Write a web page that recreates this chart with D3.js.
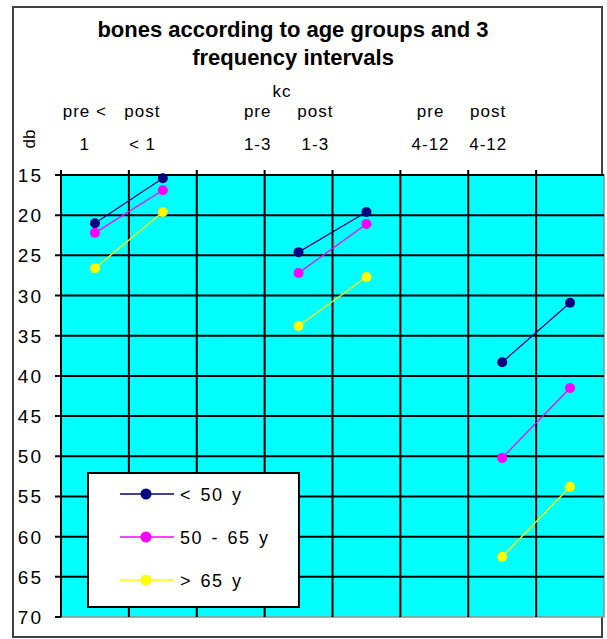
<!DOCTYPE html>
<html>
<head>
<meta charset="utf-8">
<script src="https://cdn.jsdelivr.net/npm/d3@7"></script>
<style>
	html, body { margin: 0; padding: 0; background: #fff; }
	text { font-family: "Liberation Sans", Arial, sans-serif; }
</style>
</head>
<body>
<div id="chart"></div>
<script>
// categories along the top axis (two empty spacer slots between the groups)
const categories = ["pre<1", "post<1", "gap1", "pre1-3", "post1-3", "gap2", "pre4-12", "post4-12"];
const headerTop = ["pre <", "post", "", "pre", "post", "", "pre", "post"];
const headerBottom = ["1", "< 1", "", "1-3", "1-3", "", "4-12", "4-12"];

// db values per age group
const under50 = [21.0, 15.4, null, 24.6, 19.6, null, 38.3, 30.9];
const from50to65 = [22.2, 16.9, null, 27.2, 21.1, null, 50.2, 41.5];
const over65 = [26.6, 19.6, null, 33.8, 27.7, null, 62.5, 53.8];

const seriesNames = ["< 50 y", "50 - 65 y", "> 65 y"];
const yTicks = [15, 20, 25, 30, 35, 40, 45, 50, 55, 60, 65, 70];

const titleLines = ["bones according to age groups and 3", "frequency intervals"];

(function (d3) {
	"use strict";

	const width = 607, height = 639;
	const plot = { left: 61, right: 604, top: 175, bottom: 617 };
	const colors = ["#000080", "#ff00ff", "#ffff00"];

	const svg = d3.select("#chart").append("svg")
		.attr("width", width)
		.attr("height", height);

	// outer chart border
	svg.append("rect")
		.attr("x", 13).attr("y", 7)
		.attr("width", 589).attr("height", 630)
		.attr("fill", "#fff")
		.attr("stroke", "#404040")
		.attr("stroke-width", 2);

	const x = d3.scaleBand().domain(categories).range([plot.left, plot.right]);
	const y = d3.scaleLinear().domain([15, 70]).range([plot.top, plot.bottom]);
	// the header labels sit a little compressed compared with the bands
	const xHeader = d3.scaleBand().domain(categories).range([56, 517]);

	// plot area
	svg.append("rect")
		.attr("x", plot.left).attr("y", plot.top)
		.attr("width", plot.right - plot.left)
		.attr("height", plot.bottom - plot.top)
		.attr("fill", "#00ffff")
		.attr("stroke", "#909090")
		.attr("stroke-width", 1.5);

	// gridlines
	const grid = svg.append("g").attr("stroke", "#000").attr("stroke-width", 2);
	grid.selectAll(".hgrid")
		.data(yTicks.slice(1, -1))
		.enter().append("line")
		.attr("x1", plot.left - 6).attr("x2", plot.right)
		.attr("y1", d => y(d)).attr("y2", d => y(d));
	grid.selectAll(".vgrid")
		.data(categories.slice(1))
		.enter().append("line")
		.attr("x1", d => x(d)).attr("x2", d => x(d))
		.attr("y1", plot.top - 5).attr("y2", plot.bottom);

	// axes
	const axisG = svg.append("g").attr("stroke", "#000").attr("stroke-width", 2);
	axisG.append("line")
		.attr("x1", plot.left).attr("x2", plot.left)
		.attr("y1", plot.top).attr("y2", plot.bottom);
	axisG.append("line")
		.attr("x1", plot.left).attr("x2", plot.right)
		.attr("y1", plot.top).attr("y2", plot.top);
	axisG.selectAll(".ytick")
		.data([15, 70])
		.enter().append("line")
		.attr("x1", plot.left - 6).attr("x2", plot.left)
		.attr("y1", d => y(d)).attr("y2", d => y(d));
	axisG.append("line")
		.attr("x1", plot.left).attr("x2", plot.left)
		.attr("y1", plot.top - 5).attr("y2", plot.top);

	// y labels
	svg.append("g").selectAll("text")
		.data(yTicks)
		.enter().append("text")
		.attr("x", 43)
		.attr("y", d => y(d) + 7)
		.attr("text-anchor", "end")
		.attr("font-size", 19)
		.attr("letter-spacing", 2)
		.attr("fill", "#000")
		.text(d => d);

	// title and header
	svg.append("g").selectAll("text")
		.data(titleLines)
		.enter().append("text")
		.attr("x", 293)
		.attr("y", (d, i) => 37 + i * 28)
		.attr("text-anchor", "middle")
		.attr("font-size", 22)
		.attr("font-weight", "bold")
		.text(d => d);

	svg.append("text")
		.attr("x", 282).attr("y", 97)
		.attr("text-anchor", "middle")
		.attr("font-size", 17)
		.attr("letter-spacing", 1)
		.text("kc");

	svg.append("g").selectAll("text")
		.data(categories)
		.enter().append("text")
		.attr("x", d => xHeader(d) + xHeader.bandwidth() / 2)
		.attr("y", 117)
		.attr("text-anchor", "middle")
		.attr("font-size", 17)
		.attr("letter-spacing", 1)
		.text((d, i) => headerTop[i]);

	svg.append("g").selectAll("text")
		.data(categories)
		.enter().append("text")
		.attr("x", d => xHeader(d) + xHeader.bandwidth() / 2)
		.attr("y", 150)
		.attr("text-anchor", "middle")
		.attr("font-size", 17)
		.attr("letter-spacing", 1)
		.text((d, i) => headerBottom[i]);

	svg.append("text")
		.attr("transform", "translate(35,139) rotate(-90)")
		.attr("text-anchor", "middle")
		.attr("font-size", 17)
		.text("db");

	// series
	const seriesData = [under50, from50to65, over65];
	const line = d3.line()
		.defined(d => d.v !== null)
		.x(d => x(d.c) + x.bandwidth() / 2)
		.y(d => y(d.v));

	seriesData.forEach((values, s) => {
		const pts = values.map((v, i) => ({ c: categories[i], v: v }));
		svg.append("path")
			.datum(pts)
			.attr("fill", "none")
			.attr("stroke", colors[s])
			.attr("stroke-width", 1.3)
			.attr("d", line);
		svg.append("g").selectAll("circle")
			.data(pts.filter(d => d.v !== null))
			.enter().append("circle")
			.attr("cx", d => x(d.c) + x.bandwidth() / 2)
			.attr("cy", d => y(d.v))
			.attr("r", 5)
			.attr("fill", colors[s]);
	});

	// legend
	const legend = svg.append("g").attr("transform", "translate(88,473)");
	legend.append("rect")
		.attr("width", 211).attr("height", 134)
		.attr("fill", "#fff")
		.attr("stroke", "#000")
		.attr("stroke-width", 2);
	const item = legend.selectAll(".item")
		.data(seriesNames)
		.enter().append("g")
		.attr("transform", (d, i) => "translate(0," + (21 + i * 43) + ")");
	item.append("line")
		.attr("x1", 32).attr("x2", 86)
		.attr("stroke", (d, i) => colors[i])
		.attr("stroke-width", 1.5);
	item.append("circle")
		.attr("cx", 58).attr("r", 5.5)
		.attr("fill", (d, i) => colors[i]);
	item.append("text")
		.attr("x", 92).attr("y", 7)
		.attr("font-size", 18)
		.attr("letter-spacing", 1.5)
		.attr("word-spacing", 2)
		.text(d => d);
})(d3);
</script>
</body>
</html>
